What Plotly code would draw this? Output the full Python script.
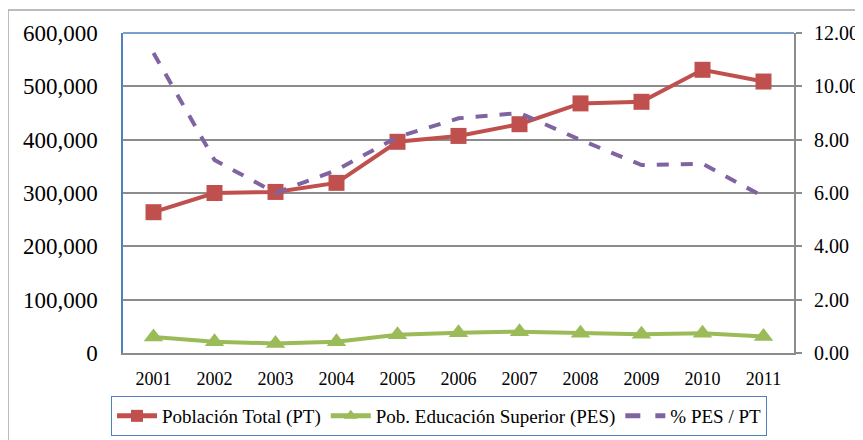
import plotly.graph_objects as go

years = ["2001", "2002", "2003", "2004", "2005", "2006", "2007", "2008", "2009", "2010", "2011"]
poblacion_total = [264000, 300000, 302000, 319000, 396000, 407000, 429000, 468000, 471000, 531000, 509000]
pob_educacion_superior = [30000, 21000, 18000, 21000, 34000, 38000, 40000, 37000, 35000, 37000, 31000]
pct_pes_pt = [11.25, 7.24, 6.0, 6.86, 8.1, 8.8, 9.0, 7.99, 7.05, 7.1, 5.86]

left_ticks = [0, 100000, 200000, 300000, 400000, 500000, 600000]
right_ticks = [0, 2, 4, 6, 8, 10, 12]

FONT = "Liberation Serif"
RED = "#C0504D"
GREEN = "#9BBB59"
PURPLE = "#8064A2"
BLUE = "#4F81BD"
GRID = "#8C8C8C"

fig = go.Figure()
fig.add_trace(go.Scatter(
    x=years, y=poblacion_total, name="Población Total (PT)",
    mode="lines+markers", line=dict(color=RED, width=4),
    marker=dict(symbol="square", size=16, color=RED), yaxis="y"))
fig.add_trace(go.Scatter(
    x=years, y=pob_educacion_superior, name="Pob. Educación Superior (PES)",
    mode="lines+markers", line=dict(color=GREEN, width=4),
    marker=dict(symbol="triangle-up", size=17, color=GREEN), yaxis="y"))
fig.add_trace(go.Scatter(
    x=years, y=pct_pes_pt, name="% PES / PT",
    mode="lines", line=dict(color=PURPLE, width=4, dash="dash"), yaxis="y2"))

# page body has an 8px margin: figure origin sits at (8, 8) in the window
OFF = 8
W, H = 863 - OFF, 440 - OFF
PL, PR, PT, PB = 123, 794, 33, 353  # plot area in window pixels
L, R, T, B = PL - OFF, 863 - PR, PT - OFF, 440 - PB
pw, ph = PR - PL, PB - PT

def px_x(p):
    return (p - PL) / pw

def px_y(p):
    return (PB - p) / ph

fig.update_layout(
    width=W, height=H,
    margin=dict(l=L, r=R, t=T, b=B, pad=0, autoexpand=False),
    paper_bgcolor="white", plot_bgcolor="white",
    font=dict(family=FONT, color="black"),
    showlegend=True,
    legend=dict(
        orientation="h", x=px_x(439), xanchor="center", y=px_y(396), yanchor="top",
        bordercolor=BLUE, borderwidth=1, bgcolor="white",
        font=dict(family=FONT, size=19, color="black"),
        itemwidth=40, itemsizing="constant", tracegroupgap=0,
    ),
    xaxis=dict(
        type="category", categoryorder="array", categoryarray=years,
        showgrid=False, showline=True, linecolor=GRID, linewidth=2,
        ticks="", tickfont=dict(family=FONT, size=18), ticklabelstandoff=8,
        range=[-0.5, len(years) - 0.5], zeroline=False, fixedrange=True,
        automargin=False,
    ),
    yaxis=dict(
        range=[0, 600000], tickvals=left_ticks, tickformat=",d",
        showgrid=True, gridcolor=GRID, gridwidth=1.5,
        showline=True, linecolor=BLUE, linewidth=1.5,
        ticks="", tickfont=dict(family=FONT, size=23), ticklabelstandoff=19,
        zeroline=False, automargin=False,
    ),
    yaxis2=dict(
        range=[0, 12], tickvals=right_ticks, tickformat=".2f",
        overlaying="y", side="right", showgrid=False,
        showline=True, linecolor=GRID, linewidth=2,
        ticks="outside", ticklen=6, tickcolor=GRID, tickwidth=1.5,
        tickfont=dict(family=FONT, size=20), ticklabelstandoff=8,
        zeroline=False, automargin=False,
    ),
    shapes=[
        dict(type="line", xref="paper", yref="paper", x0=0, x1=1, y0=1, y1=1,
             line=dict(color=BLUE, width=1.5)),
        dict(type="rect", xref="paper", yref="paper",
             x0=px_x(8), x1=px_x(870), y0=px_y(450), y1=px_y(10),
             line=dict(color="#A6A6A6", width=1.5), layer="below"),
    ],
)

fig.write_html("out.html")
